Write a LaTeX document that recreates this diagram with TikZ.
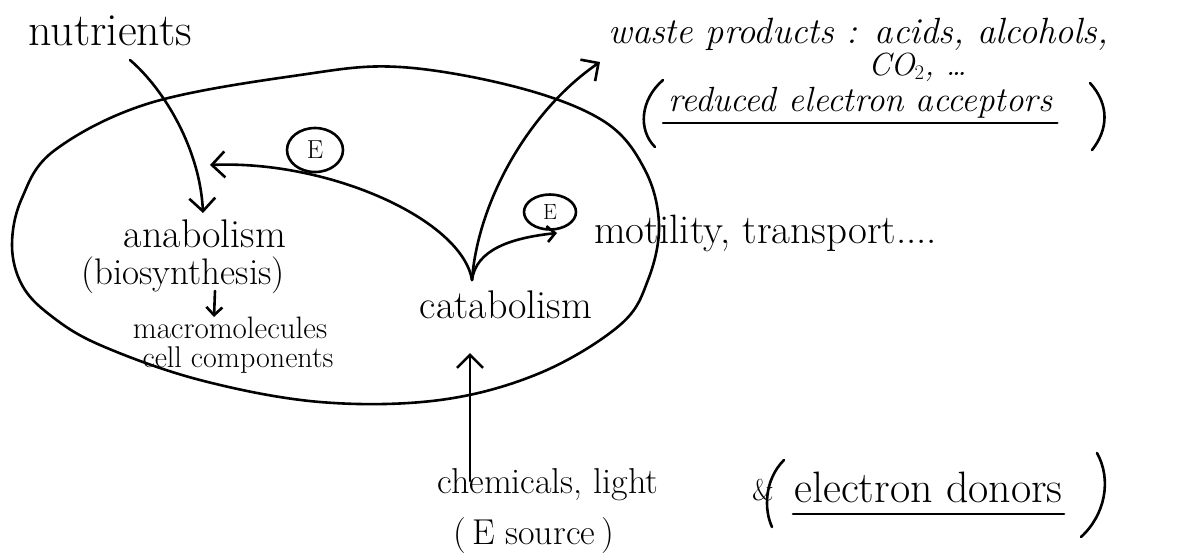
\documentclass[tikz,border=0pt]{standalone}
\usetikzlibrary{arrows.meta,shapes.geometric}
\begin{document}
\begin{tikzpicture}[x=1pt,y=-1pt,line width=2.6pt,line cap=round,line join=round,
  arr/.style={-{Straight Barb[length=13pt,width=26pt]}},
  sarr/.style={-{Straight Barb[length=8pt,width=16pt]}},
  hand/.style={inner sep=0pt,font=\fontsize{#1}{#1}\selectfont},
  hand/.default=34,
  slant/.style={inner sep=0pt,font=\fontsize{#1}{#1}\selectfont\itshape},
  ecirc/.style={ellipse,draw,inner sep=0pt,font=\fontsize{26}{26}\selectfont}]
\useasboundingbox (0,0) rectangle (1181,555);

% cell outline
\draw plot[smooth cycle,tension=0.6] coordinates {
 (12,245) (22,198) (55,150) (150,103) (300,75) (400,67) (520,88) (605,122)
 (645,170) (659,225) (648,280) (620,325) (540,373) (440,400) (320,402)
 (200,380) (100,345) (50,315) (22,285)};

% texts
\node[hand=46,anchor=base west] (nutr) at (27,45) {nutrients};
\node[hand=40,anchor=base] (ana) at (205,247) {anabolism};
\node[hand=37,anchor=base] (bio) at (183,284) {(biosynthesis)};
\node[hand=31,anchor=base] (macro) at (230,338) {macromolecules};
\node[hand=30,anchor=base] (cell) at (238,367) {cell components};
\node[hand=40,anchor=base] (cata) at (506,318) {catabolism};
\node[hand=41,anchor=base west] (mot) at (593,243) {motility, transport....};
\node[slant=36.5,anchor=base west] (waste) at (607,43) {waste products : acids, alcohols,};
\node[slant=32,anchor=base west] (co2) at (867,75) {CO$_2$, \dots};
\node[slant=35,anchor=base west] (red) at (667,111) {reduced electron acceptors};
\node[hand=36,anchor=base west] (chem) at (436,493) {chemicals, light};
\node[hand=30,anchor=base] (amp) at (763,500) {\&};
\node[hand=44,anchor=base west] (don) at (793,502) {electron donors};
\node[hand=36,anchor=base west] (src) at (452,544) {(\,E source\,)};

% energy tokens
\node[ecirc,minimum width=56pt,minimum height=44pt] (E1) at (315,150) {E};
\node[ecirc,minimum width=52pt,minimum height=35pt,font=\fontsize{22}{22}\selectfont] (E2) at (550,212) {E};

% underlines
\draw ([xshift=-4pt,yshift=-12pt]red.base west) -- ([xshift=4pt,yshift=-12pt]red.base east);
\draw ([yshift=-12pt]don.base west) -- ([yshift=-12pt]don.base east);

% big parentheses
\coordinate (pa1) at (663,80);  \coordinate (pa2) at (655,147);
\coordinate (pb1) at (1090,83); \coordinate (pb2) at (1092,150);
\coordinate (pc1) at (784,460); \coordinate (pc2) at (772,527);
\coordinate (pd1) at (1097,453);\coordinate (pd2) at (1081,537);
\draw (pa1) .. controls (640,100) and (638,130) .. (pa2);
\draw (pb1) .. controls (1110,105) and (1108,130) .. (pb2);
\draw (pc1) .. controls (764,480) and (764,510) .. (pc2);
\draw (pd1) .. controls (1112,480) and (1105,515) .. (pd2);

% connectors
\coordinate (fork) at (472,280);
\coordinate (nutStart) at (130,60);
\coordinate (anaIn) at (203,213);
\coordinate (anaE) at (210,165);
\coordinate (wasteTip) at (600,62);
\coordinate (motTip) at (557,233);
\coordinate (srcTop) at (470,481);
\coordinate (cataIn) at (470,353);
\coordinate (bioDown) at (215,291);
\coordinate (macroTop) at (214,317);

\draw[arr] (nutStart) .. controls (165,90) and (200,150) .. (anaIn);
\draw[arr] (fork) .. controls (462,220) and (330,160) .. (anaE);
\draw[arr] (fork) .. controls (478,200) and (530,110) .. (wasteTip);
\draw[sarr] (fork) .. controls (476,250) and (510,238) .. (motTip);
\draw[arr] (srcTop) -- (cataIn);
\draw[sarr] (bioDown) -- (macroTop);
\end{tikzpicture}
\end{document}
